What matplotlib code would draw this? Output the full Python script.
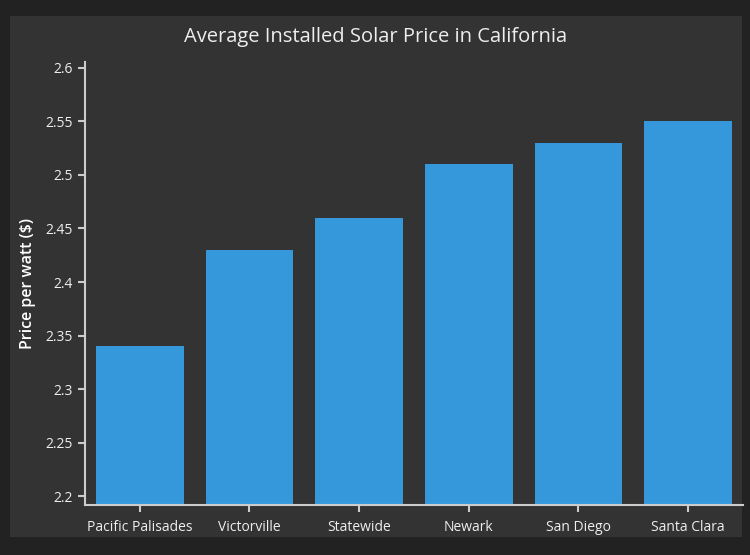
import matplotlib
matplotlib.use("Agg")
import matplotlib.pyplot as plt
from matplotlib.patches import Rectangle

categories = ["Pacific Palisades", "Victorville", "Statewide", "Newark", "San Diego", "Santa Clara"]
prices = [2.34, 2.43, 2.46, 2.51, 2.53, 2.55]
yticks = [2.2, 2.25, 2.3, 2.35, 2.4, 2.45, 2.5, 2.55, 2.6]
ytick_labels = ["2.2", "2.25", "2.3", "2.35", "2.4", "2.45", "2.5", "2.55", "2.6"]

plt.rcParams['font.family'] = ['Open Sans', 'DejaVu Sans']
W, H = 750, 555
fig = plt.figure(figsize=(7.5, 5.55), dpi=100, facecolor="#222222")
fig.patches.append(Rectangle((10 / W, 1 - 537 / H), 732 / W, 521 / H,
                             transform=fig.transFigure, facecolor="#333333",
                             edgecolor="none", zorder=-5))

ax = fig.add_axes([85 / W, 1 - 505 / H, (743 - 85) / W, (505 - 62) / H], zorder=1)
ax.set_facecolor("none")
x = list(range(len(categories)))
ax.bar(x, prices, width=0.8, color="#3498db", zorder=2)
ax.set_xlim(-0.5, len(categories) - 0.5)
ax.set_ylim(2.1916, 2.6056)
ax.set_xticks(x)
ax.set_xticklabels(categories)
ax.set_yticks(yticks)
ax.set_yticklabels(ytick_labels)
for s in ["top", "right"]:
    ax.spines[s].set_visible(False)
for s in ["left", "bottom"]:
    ax.spines[s].set_color("#cccccc")
    ax.spines[s].set_linewidth(1.5)
ax.tick_params(colors="#cccccc", labelcolor="#eeeeee", labelsize=10, length=5, width=1.5, direction="out")
ax.tick_params(axis="x", pad=6)
ax.set_ylabel("Price per watt ($)", color="#ffffff", fontsize=11.5, fontweight="semibold")
ax.yaxis.set_label_coords((36 - 85) / (743 - 85), 0.5)
fig.text(376 / W, 1 - 37 / H, "Average Installed Solar Price in California", color="#eeeeee",
         fontsize=14.5, ha="center", va="center")
fig.savefig("out.png", dpi=100, facecolor=fig.get_facecolor())
